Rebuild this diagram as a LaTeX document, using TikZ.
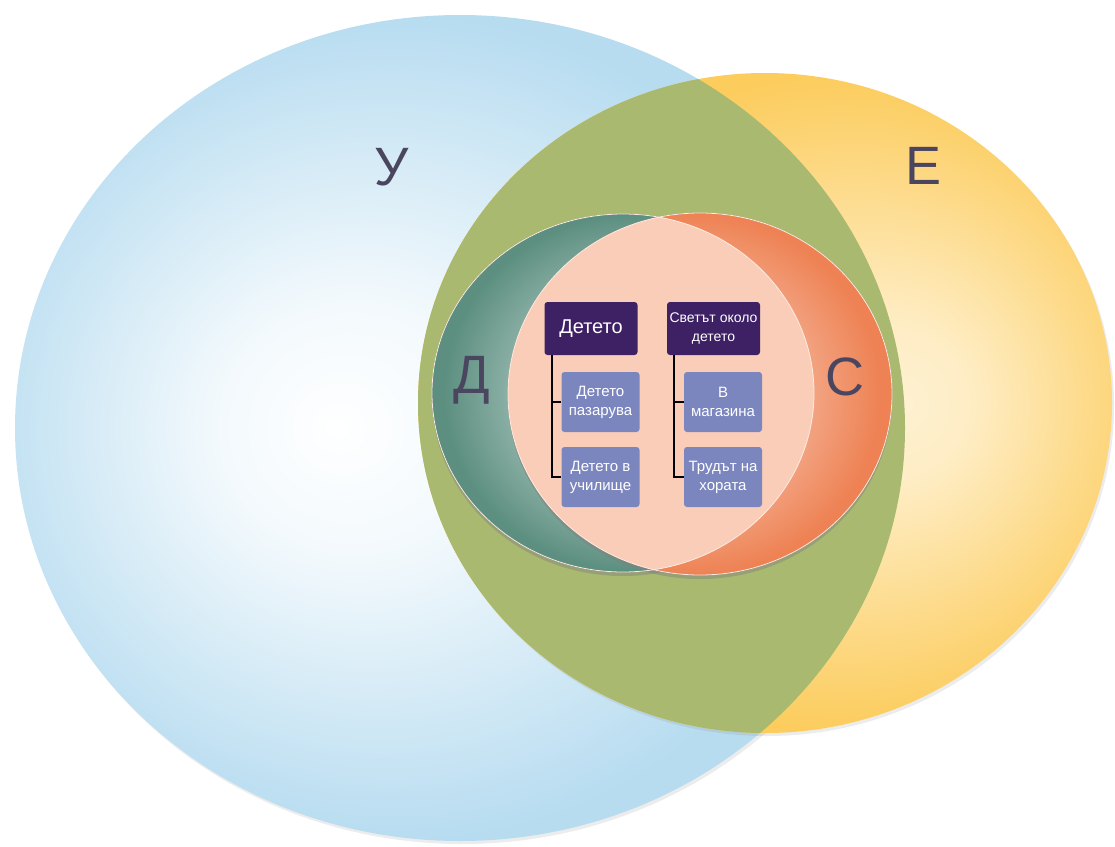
\documentclass[tikz,border=0pt]{standalone}
\usepackage{fontspec}
\setmainfont{Liberation Sans}
\usetikzlibrary{positioning}
\usetikzlibrary{shadows}
\definecolor{setblue}{RGB}{183,220,240}
\definecolor{setyellow}{RGB}{252,204,92}
\definecolor{lensgreen}{RGB}{169,185,111}
\definecolor{setteal}{RGB}{92,143,128}
\definecolor{setorange}{RGB}{238,130,84}
\definecolor{corepink}{RGB}{250,205,184}
\definecolor{boxpurple}{RGB}{62,32,100}
\definecolor{boxblue}{RGB}{124,134,190}
\definecolor{lettergrey}{RGB}{75,70,95}
\pgfdeclareradialshading{blueshade}{\pgfpoint{-7bp}{0bp}}{color(0bp)=(white); color(8bp)=(white!82!setblue); color(25bp)=(setblue); color(50bp)=(setblue)}
\pgfdeclareradialshading{yellowshade}{\pgfpoint{10bp}{0bp}}{color(0bp)=(white!72!setyellow); color(6bp)=(white!64!setyellow); color(25bp)=(setyellow); color(50bp)=(setyellow)}
\pgfdeclareradialshading{tealshade}{\pgfpoint{3bp}{0bp}}{color(0bp)=(white!45!setteal); color(15bp)=(white!36!setteal); color(25bp)=(setteal); color(50bp)=(setteal)}
\pgfdeclareradialshading{orangeshade}{\pgfpoint{-3bp}{0bp}}{color(0bp)=(white!45!setorange); color(15bp)=(white!32!setorange); color(25bp)=(setorange); color(50bp)=(setorange)}

\begin{document}
\begin{tikzpicture}[x=1pt,y=-1pt,node distance=70pt,on grid,
    setlabel/.style={text=lettergrey,font=\fontsize{54}{60}\selectfont,inner sep=0pt},
    parentbox/.style={rectangle,rounded corners=3pt,fill=boxpurple,text=white,
        minimum width=93pt,minimum height=53pt,align=center,inner sep=2pt,
        font=\fontsize{20}{22}\selectfont},
    childbox/.style={rectangle,rounded corners=3pt,fill=boxblue,text=white,
        minimum width=78pt,minimum height=60pt,align=center,inner sep=2pt,
        font=\fontsize{15}{19}\selectfont},
    branch/.style={draw=black,line width=1.8pt}]
    \useasboundingbox (0,0) rectangle (1115,846);
    \fill[white] (0,0) rectangle (1115,846);
    % У
    \shade[shading=blueshade,drop shadow={opacity=0.15,shadow xshift=2pt,shadow yshift=-3pt}]
        (460,428) ellipse [x radius=445pt,y radius=413pt];
    % Е
    \shade[shading=yellowshade,drop shadow={opacity=0.15,shadow xshift=2pt,shadow yshift=-3pt}]
        (765,403) ellipse [x radius=347pt,y radius=330pt];
    % У and Е
    \begin{scope}
        \clip (460,428) ellipse [x radius=445pt,y radius=413pt];
        \fill[lensgreen] (765,403) ellipse [x radius=347pt,y radius=330pt];
    \end{scope}
    % Д
    \shade[shading=tealshade,draw=setteal!70!black,line width=0.4pt,
        drop shadow={opacity=0.45,shadow xshift=0pt,shadow yshift=-4pt}]
        (623,393) ellipse [x radius=191pt,y radius=179pt];
    % С
    \shade[shading=orangeshade,draw=setorange!75!black,line width=0.4pt,
        drop shadow={opacity=0.45,shadow xshift=0pt,shadow yshift=-4pt}]
        (700,394) ellipse [x radius=192pt,y radius=181pt];
    % Д and С
    \begin{scope}
        \clip (623,393) ellipse [x radius=191pt,y radius=179pt];
        \fill[corepink] (700,394) ellipse [x radius=192pt,y radius=181pt];
    \end{scope}
    \draw[white!60!corepink,line width=0.8pt] (623,393) ellipse [x radius=191pt,y radius=179pt];
    \draw[white!60!corepink,line width=0.8pt] (700,394) ellipse [x radius=192pt,y radius=181pt];
    % set letters
    \node[setlabel] (U) at (392,167) {У};
    \node[setlabel] (E) at (923,166) {Е};
    \node[setlabel] (D) at (472,380) {Д};
    \node[setlabel] (S) at (845,377) {С};
    % the child
    \node[parentbox] (CH)  at (591,328.5)                        {Детето};
    \node[childbox]  (CH1) [below right=73.5pt and 9.5pt of CH]  {Детето\\пазарува};
    \node[childbox]  (CH2) [below=75pt of CH1]                   {Детето в\\училище};
    % the world around the child
    \node[parentbox,font=\fontsize{14}{19}\selectfont]
                     (WO)  [right=122.5pt of CH]                 {Светът около\\детето};
    \node[childbox]  (WO1) [below right=73.5pt and 9.5pt of WO]  {В\\магазина};
    \node[childbox]  (WO2) [below=75pt of WO1]                   {Трудът на\\хората};
    \path[branch] ([xshift=8pt]CH.south west) |- (CH1.west)
                  ([xshift=8pt]CH.south west) |- (CH2.west)
                  ([xshift=7pt]WO.south west) |- (WO1.west)
                  ([xshift=7pt]WO.south west) |- (WO2.west);
\end{tikzpicture}
\end{document}
